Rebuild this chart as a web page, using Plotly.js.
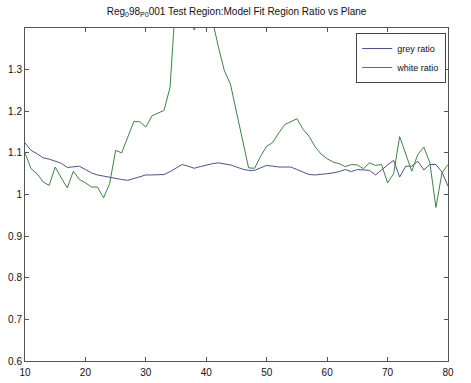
<!DOCTYPE html>
<html>
<head>
<meta charset="utf-8">
<script src="https://cdn.plot.ly/plotly-3.0.1.min.js"></script>
<style>html,body{margin:0;padding:0;background:#fff;}#chart{width:471px;height:383px;}</style>
</head>
<body>
<div id="chart"></div>
<script>
const planes = [10,11,12,13,14,15,16,17,18,19,20,21,22,23,24,25,26,27,28,29,30,31,32,33,34,35,36,37,38,39,40,41,42,43,44,45,46,47,48,49,50,51,52,53,54,55,56,57,58,59,60,61,62,63,64,65,66,67,68,69,70,71,72,73,74,75,76,77,78,79,80];
const greyRatio = [1.124,1.106,1.098,1.088,1.085,1.080,1.075,1.065,1.066,1.068,1.060,1.052,1.047,1.044,1.042,1.039,1.036,1.034,1.038,1.042,1.047,1.047,1.047,1.048,1.055,1.064,1.072,1.068,1.063,1.067,1.071,1.074,1.076,1.074,1.071,1.066,1.061,1.058,1.058,1.064,1.070,1.068,1.066,1.066,1.066,1.060,1.054,1.048,1.047,1.048,1.050,1.052,1.055,1.060,1.055,1.060,1.059,1.058,1.047,1.060,1.071,1.082,1.042,1.068,1.068,1.080,1.059,1.072,1.072,1.054,1.020];
const whiteRatio = [1.100,1.062,1.050,1.030,1.022,1.066,1.040,1.016,1.056,1.036,1.028,1.018,1.018,0.992,1.026,1.106,1.100,1.136,1.175,1.175,1.162,1.189,1.195,1.202,1.257,1.480,1.550,1.450,1.395,1.430,1.550,1.420,1.355,1.297,1.265,1.200,1.130,1.064,1.063,1.092,1.116,1.125,1.148,1.168,1.175,1.182,1.157,1.140,1.115,1.097,1.086,1.078,1.074,1.067,1.072,1.071,1.062,1.076,1.070,1.072,1.028,1.050,1.139,1.100,1.056,1.096,1.114,1.076,0.969,1.052,1.072];
const yTicks = [0.6,0.7,0.8,0.9,1.0,1.1,1.2,1.3];
const yTickText = ['0.6','0.7','0.8','0.9','1','1.1','1.2','1.3'];
const xTicks = [10,20,30,40,50,60,70,80];

const traces = [
  {x: planes, y: greyRatio, name: 'grey ratio', type: 'scatter', mode: 'lines',
   line: {color: '#50508e', width: 1}},
  {x: planes, y: whiteRatio, name: 'white ratio', type: 'scatter', mode: 'lines',
   line: {color: '#3d8443', width: 1}}
];
const axisCommon = {
  showline: true, linecolor: '#555', linewidth: 1, mirror: 'allticks',
  ticks: 'inside', ticklen: 4, tickcolor: '#555', showgrid: false, zeroline: false,
  tickfont: {family: 'Liberation Sans, Arial, sans-serif', size: 10, color: '#111'}
};
const layout = {
  width: 471, height: 383,
  margin: {l: 25, r: 23, t: 28, b: 22},
  paper_bgcolor: '#fff', plot_bgcolor: '#fff',
  showlegend: true,
  title: {text: 'Reg<sub>0</sub>98<sub>P</sub><sub>0</sub>001 Test Region:Model Fit Region Ratio vs Plane',
    x: 0.5, xref: 'paper', y: 0.97, yref: 'container', yanchor: 'middle',
    font: {family: 'Liberation Sans, Arial, sans-serif', size: 10, color: '#111'}},
  xaxis: Object.assign({}, axisCommon, {range: [10, 80], tickvals: xTicks, ticklabelstandoff: 2}),
  yaxis: Object.assign({}, axisCommon, {range: [0.6, 1.4], tickvals: yTicks, ticktext: yTickText, ticklabelstandoff: 0}),
  legend: {x: 0.783, xanchor: 'left', y: 0.985, yanchor: 'top',
    bgcolor: '#fff', bordercolor: '#444', borderwidth: 1,
    font: {family: 'Liberation Sans, Arial, sans-serif', size: 9, color: '#111'},
    tracegroupgap: 0, itemwidth: 30}
};
Plotly.newPlot('chart', traces, layout, {displayModeBar: false, staticPlot: true});
</script>
</body>
</html>
